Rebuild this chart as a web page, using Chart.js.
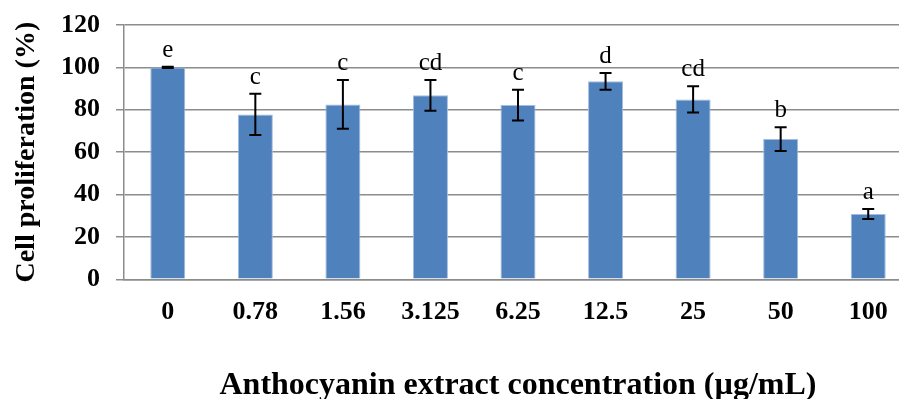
<!DOCTYPE html>
<html>
<head>
<meta charset="utf-8">
<script src="https://cdn.jsdelivr.net/npm/chart.js@4"></script>
<style>
  html, body { margin: 0; padding: 0; overflow: hidden; background: #fff; }
  #wrap { width: 913px; height: 399px; }
</style>
</head>
<body>
<div id="wrap"><canvas id="c" width="913" height="399"></canvas></div>
<script>
const categories = ['0', '0.78', '1.56', '3.125', '6.25', '12.5', '25', '50', '100'];
const proliferation = [100, 77.8, 82.5, 86.8, 82.2, 93.4, 84.9, 66.2, 30.8];
const errors = [0.3, 9.7, 11.5, 7.3, 7.3, 3.9, 6.2, 5.6, 2.4];
const letters = ['e', 'c', 'c', 'cd', 'c', 'd', 'cd', 'b', 'a'];
const yTicks = [0, 20, 40, 60, 80, 100, 120];

const SERIF = '"Liberation Serif", "Times New Roman", serif';

const errorBarPlugin = {
  id: 'errorBars',
  afterDatasetsDraw(chart) {
    const ctx = chart.ctx;
    const meta = chart.getDatasetMeta(0);
    const y = chart.scales.y;
    ctx.save();
    meta.data.forEach((bar, i) => {
      const v = proliferation[i], e = errors[i];
      const x = bar.x;
      const yt = y.getPixelForValue(v + e);
      const yb = y.getPixelForValue(v - e);
      ctx.strokeStyle = '#000';
      ctx.lineWidth = 2;
      ctx.beginPath();
      ctx.moveTo(x, yt); ctx.lineTo(x, yb);
      ctx.moveTo(x - 6, yt); ctx.lineTo(x + 6, yt);
      ctx.moveTo(x - 6, yb); ctx.lineTo(x + 6, yb);
      ctx.stroke();
      ctx.fillStyle = '#000';
      ctx.font = '25px ' + SERIF;
      ctx.textAlign = 'center';
      ctx.textBaseline = 'alphabetic';
      ctx.fillText(letters[i], x, yt - 10);
    });
    ctx.restore();
  }
};

new Chart(document.getElementById('c'), {
  type: 'bar',
  data: {
    labels: categories,
    datasets: [{
      data: proliferation,
      backgroundColor: '#4f81bd',
      borderColor: '#a3bcdd',
      borderWidth: 1,
      barPercentage: 0.4,
      categoryPercentage: 1
    }]
  },
  options: {
    responsive: false,
    animation: false,
    layout: { padding: { top: 25, right: 1, bottom: 0, left: 0 } },
    plugins: { legend: { display: false }, tooltip: { enabled: false } },
    scales: {
      x: {
        grid: { display: false },
        border: { display: true, color: '#8c8c8c', width: 1.5 },
        ticks: {
          color: '#000',
          padding: 9,
          maxRotation: 0,
          font: { family: SERIF, size: 26, weight: 'bold' }
        },
        title: {
          display: true,
          text: 'Anthocyanin extract concentration (µg/mL)',
          color: '#000',
          padding: { top: 0, bottom: 0 },
          font: { family: SERIF, size: 32, weight: 'bold', lineHeight: 0.8 }
        },
        afterFit(scale) {
          scale.height = 119.7;
          scale.paddingLeft = 0; scale.paddingRight = 0;
        }
      },
      y: {
        min: 0,
        max: 120,
        afterBuildTicks(scale) { scale.ticks = yTicks.map(v => ({ value: v })); },
        grid: { color: '#8c8c8c', lineWidth: 1.5, tickLength: 8, drawTicks: true },
        border: { display: true, color: '#8c8c8c', width: 1.5 },
        ticks: {
          color: '#000',
          padding: 16,
          font: { family: SERIF, size: 26, weight: 'bold' }
        },
        title: {
          display: true,
          text: 'Cell proliferation (%)',
          color: '#000',
          padding: { top: 10, bottom: 0 },
          font: { family: SERIF, size: 28, weight: 'bold' }
        },
        afterFit(scale) {
          scale.width = 124;
          scale.paddingTop = 0; scale.paddingBottom = 0;
        }
      }
    }
  },
  plugins: [errorBarPlugin]
});
</script>
</body>
</html>
